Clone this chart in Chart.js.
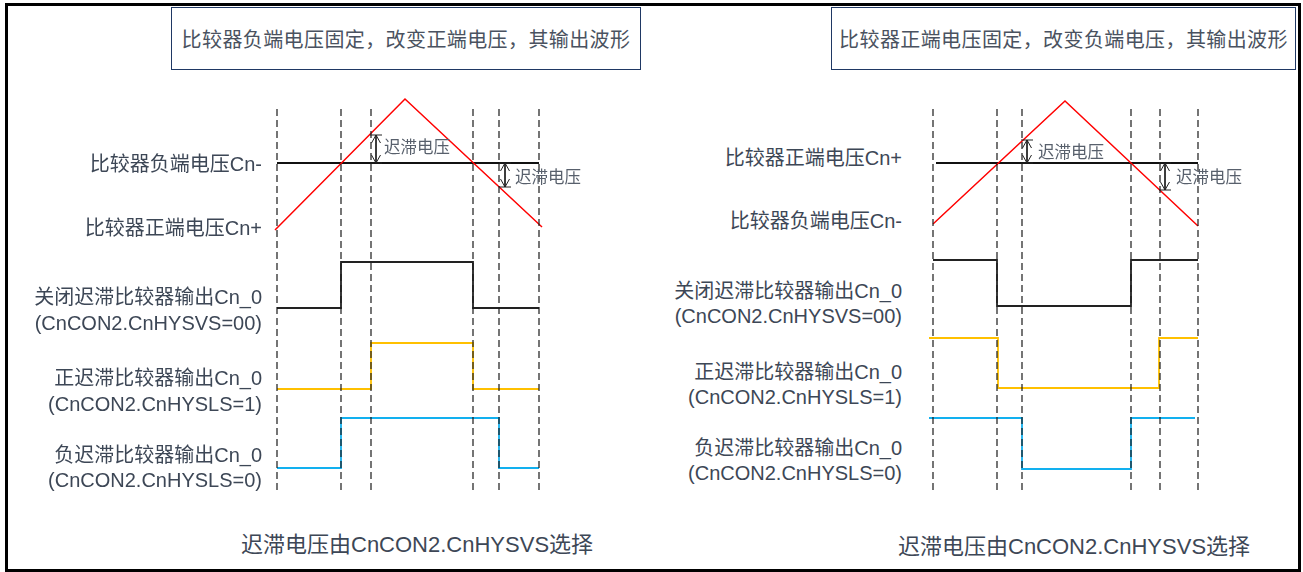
<!DOCTYPE html>
<html>
<head>
<meta charset="utf-8">
<script src="https://cdn.jsdelivr.net/npm/chart.js@4.4.1/dist/chart.umd.min.js"></script>
<style>
    html, body { margin: 0; padding: 0; background: #fff; width: 1303px; height: 572px; overflow: hidden; }
    body { position: relative; font-family: "Liberation Sans", "Noto Sans CJK SC", sans-serif; }
    #frame { position: absolute; left: 5px; top: 3px; width: 1296px; height: 569px; box-sizing: border-box; border: 3px solid #000; }
    .title { position: absolute; top: 7px; height: 63px; box-sizing: border-box; border: 1.5px solid #1f3864;
             display: flex; align-items: center; justify-content: center; white-space: nowrap;
             font-size: 20px; letter-spacing: 0.4px; color: #4a5260; }
    .txt { position: absolute; white-space: nowrap; color: #3d4756; }
    canvas { position: absolute; }
</style>
</head>
<body>
<div id="frame"></div>
<div class="title" style="left:171px; width:470px;">比较器负端电压固定，改变正端电压，其输出波形</div>
<div class="title" style="left:831px; width:465px;">比较器正端电压固定，改变负端电压，其输出波形</div>
<canvas id="chartL" width="290" height="410"></canvas>
<canvas id="chartR" width="290" height="410"></canvas>

<script>
// ===== Left panel: Cn- fixed, Cn+ ramps (time in a.u., voltage relative to Cn-) =====
const edgesL = [0, 64, 94, 196, 222, 262];          // dashed switching instants
const rampTL = [-2, 128, 265];
const rampVL = [-67, 64, -64];                       // Cn+ triangle
const refTL = [0, 262];
const refVL = [0, 0];                                // Cn- level
const hysTL = [99, 228];
const hysHiL = [28, 0];
const hysLoL = [0, -24];
const offTL = [0, 64, 196, 262];
const offVL = [0, 1, 0, 0];                          // hysteresis off
const posTL = [0, 94, 196, 262];
const posVL = [0, 1, 0, 0];                          // CnHYSLS=1
const negTL = [0, 64, 222, 262];
const negVL = [0, 1, 0, 0];                          // CnHYSLS=0

// ===== Right panel: Cn+ fixed, Cn- ramps =====
const edgesR = [0, 64, 89, 198, 227, 265];
const rampTR = [0, 132, 265];
const rampVR = [-61, 62, -63];
const refTR = [3, 265];
const refVR = [0, 0];
const hysTR = [94, 232];
const hysHiR = [23, 0];
const hysLoR = [0, -27];
const offTR = [0, 64, 198, 265];
const offVR = [1, 0, 1, 1];
const posTR = [-4, 65, 226, 265];
const posVR = [1, 0, 1, 1];
const negTR = [-4, 89, 198, 262];
const negVR = [1, 0, 1, 1];

// ===== Text =====
const labelsL = ['比较器负端电压Cn-', '比较器正端电压Cn+', '关闭迟滞比较器输出Cn_0', '(CnCON2.CnHYSVS=00)',
    '正迟滞比较器输出Cn_0', '(CnCON2.CnHYSLS=1)', '负迟滞比较器输出Cn_0', '(CnCON2.CnHYSLS=0)'];
const labelsR = ['比较器正端电压Cn+', '比较器负端电压Cn-', '关闭迟滞比较器输出Cn_0', '(CnCON2.CnHYSVS=00)',
    '正迟滞比较器输出Cn_0', '(CnCON2.CnHYSLS=1)', '负迟滞比较器输出Cn_0', '(CnCON2.CnHYSLS=0)'];
const hysText = '迟滞电压';
const caption = '迟滞电压由CnCON2.CnHYSVS选择';

// ===== Colors =====
const colors = {
    ramp: '#ff0000',
    ref: '#111111',
    off: '#222222',
    pos: '#ffc000',
    neg: '#12b0ef',
    guide: '#1a1a1a',
    arrow: '#222222'
};

// ===== Layout (page pixels) =====
const layoutL = {
    canvas: { left: 262, top: 90, width: 290, height: 410 },
    t0: 277, vZero: 163,
    guide: [490, 105],
    lanes: { off: [308, 262], pos: [389, 343], neg: [468, 418] },
    labelRight: 262,
    labelY: [164, 228, 297, 323, 378, 404, 455, 480],
    hysLabel: [[384, 147], [515, 177]],
    caption: [241, 545]
};
const layoutR = {
    canvas: { left: 918, top: 90, width: 290, height: 410 },
    t0: 933, vZero: 163,
    guide: [490, 105],
    lanes: { off: [306, 260], pos: [388, 338], neg: [469, 418] },
    labelRight: 902,
    labelY: [158, 221, 291, 316, 372, 397, 448, 473],
    hysLabel: [[1038, 152], [1176, 177]],
    caption: [898, 547]
};

// hidden linear axis whose value a0 sits at page pixel p0 and a1 at p1
function pinnedAxis(a0, p0, a1, p1, start, len) {
    const k = (a1 - a0) / (p1 - p0);
    const v = p => a0 + (p - p0) * k;
    const ends = [v(start), v(start + len)];
    return { type: 'linear', display: false, min: Math.min(...ends), max: Math.max(...ends) };
}

function pts(ts, vs) {
    return ts.map((t, i) => ({ x: t, y: vs[i] }));
}

// ===== Hysteresis arrow heads =====
const arrowHeads = {
    id: 'arrowHeads',
    afterDatasetsDraw(chart) {
        const ctx = chart.ctx;
        chart.data.datasets.forEach((ds, i) => {
            if (!ds.hysArrow) return;
            const p = chart.getDatasetMeta(i).data;
            const top = p[0].y < p[1].y ? p[0] : p[1];
            const bot = p[0].y < p[1].y ? p[1] : p[0];
            ctx.save();
            ctx.strokeStyle = ds.borderColor;
            ctx.lineWidth = 1;
            ctx.beginPath();
            ctx.moveTo(top.x - 4.5, top.y + 8); ctx.lineTo(top.x, top.y); ctx.lineTo(top.x + 4.5, top.y + 8);
            ctx.moveTo(bot.x - 4.5, bot.y - 8); ctx.lineTo(bot.x, bot.y); ctx.lineTo(bot.x + 4.5, bot.y - 8);
            ctx.moveTo(top.x - 6, top.y); ctx.lineTo(top.x + 6, top.y);
            ctx.moveTo(bot.x - 6, bot.y); ctx.lineTo(bot.x + 6, bot.y);
            ctx.stroke();
            ctx.restore();
        });
    }
};

function lineSet(data, color, width, yAxisID, extra) {
    return Object.assign({
        data, borderColor: color, borderWidth: width, yAxisID,
        pointRadius: 0, tension: 0, fill: false, clip: false
    }, extra || {});
}

function buildPanel(id, L, d) {
    const c = L.canvas;
    const el = document.getElementById(id);
    el.style.left = c.left + 'px';
    el.style.top = c.top + 'px';

    const scales = {
        x: pinnedAxis(0, L.t0, 1, L.t0 + 1, c.left, c.width),
        yV: pinnedAxis(0, L.vZero, 1, L.vZero - 1, c.top, c.height),
        yG: pinnedAxis(0, L.guide[0], 1, L.guide[1], c.top, c.height),
        yOff: pinnedAxis(0, L.lanes.off[0], 1, L.lanes.off[1], c.top, c.height),
        yPos: pinnedAxis(0, L.lanes.pos[0], 1, L.lanes.pos[1], c.top, c.height),
        yNeg: pinnedAxis(0, L.lanes.neg[0], 1, L.lanes.neg[1], c.top, c.height)
    };

    const datasets = d.edges.map(e =>
        lineSet([{ x: e, y: 0 }, { x: e, y: 1 }], colors.guide, 1.2, 'yG', { borderDash: [7, 4] }));
    datasets.push(lineSet(pts(d.rampT, d.rampV), colors.ramp, 1.5, 'yV'));
    datasets.push(lineSet(pts(d.refT, d.refV), colors.ref, 1.8, 'yV'));
    datasets.push(lineSet([{ x: d.hysT[0], y: d.hysHi[0] }, { x: d.hysT[0], y: d.hysHi[1] }], colors.arrow, 1, 'yV', { hysArrow: true }));
    datasets.push(lineSet([{ x: d.hysT[1], y: d.hysLo[0] }, { x: d.hysT[1], y: d.hysLo[1] }], colors.arrow, 1, 'yV', { hysArrow: true }));
    datasets.push(lineSet(pts(d.offT, d.offV), colors.off, 1.8, 'yOff', { stepped: 'before' }));
    datasets.push(lineSet(pts(d.posT, d.posV), colors.pos, 1.8, 'yPos', { stepped: 'before' }));
    datasets.push(lineSet(pts(d.negT, d.negV), colors.neg, 1.8, 'yNeg', { stepped: 'before' }));

    new Chart(el, {
        type: 'line',
        data: { datasets },
        options: {
            responsive: false,
            animation: false,
            events: [],
            layout: { padding: 0 },
            plugins: { legend: { display: false }, tooltip: { enabled: false }, title: { display: false } },
            scales
        },
        plugins: [arrowHeads]
    });

    // text labels
    d.labels.forEach((txt, i) => addText(txt, L.labelRight, L.labelY[i], 20, true));
    L.hysLabel.forEach(([x, y]) => addText(hysText, x, y, 16.5, false, '#58606c'));
    addText(caption, L.caption[0], L.caption[1], 22, false);
}

function addText(txt, x, cy, size, alignRight, color) {
    const div = document.createElement('div');
    const lh = Math.round(size * 1.2);
    div.className = 'txt';
    div.textContent = txt;
    div.style.fontSize = size + 'px';
    div.style.lineHeight = lh + 'px';
    div.style.left = x + 'px';
    div.style.top = (cy - lh / 2) + 'px';
    if (alignRight) div.style.transform = 'translateX(-100%)';
    if (color) div.style.color = color;
    document.body.appendChild(div);
}

buildPanel('chartL', layoutL, {
    edges: edgesL, rampT: rampTL, rampV: rampVL, refT: refTL, refV: refVL,
    hysT: hysTL, hysHi: hysHiL, hysLo: hysLoL,
    offT: offTL, offV: offVL, posT: posTL, posV: posVL, negT: negTL, negV: negVL,
    labels: labelsL
});
buildPanel('chartR', layoutR, {
    edges: edgesR, rampT: rampTR, rampV: rampVR, refT: refTR, refV: refVR,
    hysT: hysTR, hysHi: hysHiR, hysLo: hysLoR,
    offT: offTR, offV: offVR, posT: posTR, posV: posVR, negT: negTR, negV: negVR,
    labels: labelsR
});
</script>
</body>
</html>
